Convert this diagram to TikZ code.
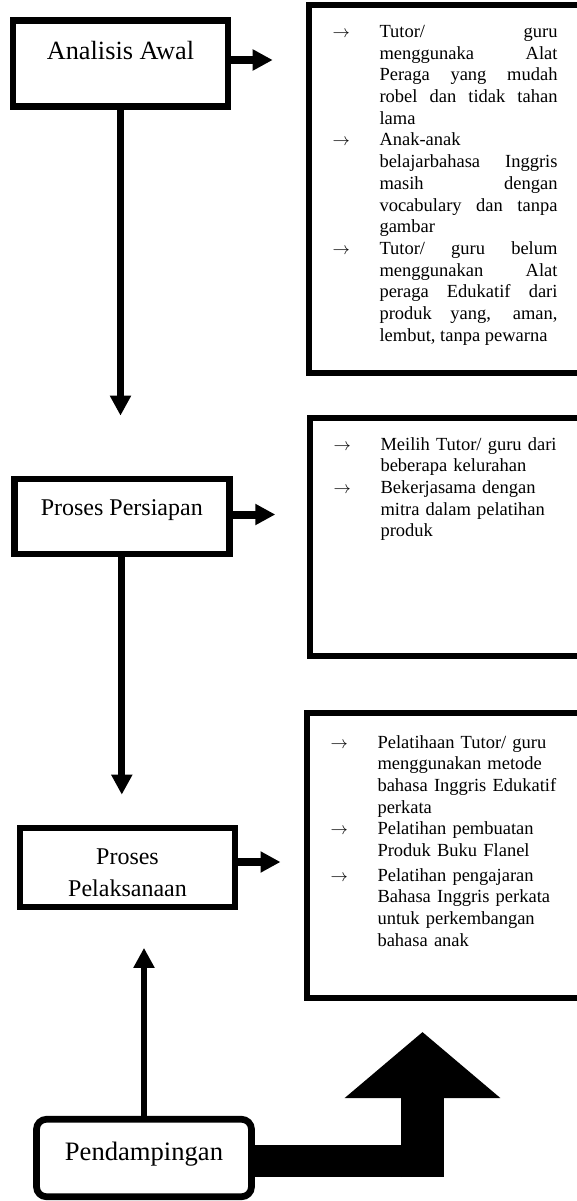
\documentclass[tikz,border=0pt]{standalone}
\usepackage{fontspec}
\setmainfont{Liberation Serif}
\usepackage{tikz}
\usetikzlibrary{arrows.meta,positioning,calc}

\newcommand{\arrowitem}{\noindent\hangindent=47pt\hangafter=1\makebox[47pt][l]{$\rightarrow$}}

\begin{document}
\begin{tikzpicture}[x=1pt,y=-1pt,
stagebox/.style={draw, line width=6.7pt, minimum width=215pt, inner sep=0pt, text height=18pt, font=\fontsize{26.3}{31}\selectfont},
notebox/.style={draw, line width=6pt, anchor=north west, inner xsep=23.5pt, inner ysep=18pt, text height=14pt, font=\fontsize{18.5}{21.7}\selectfont},
flow/.style={line width=6.7pt, -{Triangle[width=20pt,length=20pt]}}]
\useasboundingbox (0,0) rectangle (577,1201);

% stages
\node[stagebox, minimum height=86pt, text depth=26.8pt] (analisis) at (120.5,63.7) {Analisis Awal};
\node[stagebox, minimum height=75pt, text depth=21pt, font=\fontsize{24}{31}\selectfont] (persiapan) at (121.8,516.5) {Proses Persiapan};
\node[stagebox, minimum height=79pt, align=center, text height=57pt, text depth=0pt, font=\fontsize{24}{32}\selectfont] (pelaksanaan) at (127.5,867.5) {Proses\\Pelaksanaan};
\node[stagebox, rounded corners=10pt, minimum height=77.5pt, text depth=14pt, font=\fontsize{26.6}{31}\selectfont] (pendampingan) at (144,1158) {Pendampingan};

% notes
\node[notebox, align=justify, text width=225pt, text depth=317.5pt] (awalnote) at (306,2.5) {%
\arrowitem Tutor/ guru\linebreak menggunaka Alat\linebreak Peraga yang mudah\linebreak robel dan tidak tahan\linebreak lama\par
\arrowitem Anak-anak\newline belajarbahasa Inggris\linebreak masih dengan\linebreak vocabulary dan tanpa\linebreak gambar\par
\arrowitem Tutor/ guru belum\linebreak menggunakan Alat\linebreak peraga Edukatif dari\linebreak produk yang, aman,\linebreak lembut, tanpa pewarna\par};
\node[notebox, align=left, text width=228pt, text depth=188pt] (persiapannote) at (307,415) {%
\arrowitem Meilih Tutor/ guru dari\newline beberapa kelurahan\par
\arrowitem Bekerjasama dengan\newline mitra dalam pelatihan\newline produk\par};
\node[notebox, align=left, text width=228pt, text height=17pt, text depth=232pt] (pelaksanaannote) at (304,710) {%
\arrowitem Pelatihaan Tutor/ guru\newline menggunakan metode\newline bahasa Inggris Edukatif\newline perkata\par
\arrowitem Pelatihan pembuatan\newline Produk Buku Flanel\par\vspace{3pt}
\arrowitem Pelatihan pengajaran\newline Bahasa Inggris perkata\newline untuk perkembangan\newline bahasa anak\par};

% connectors
\coordinate (awaltip) at (272.7,60);
\coordinate (persiapantip) at (275.3,514.5);
\coordinate (pelaksanaantip) at (280.5,862);
\coordinate (bigbend) at (422.5,1161);
\coordinate (bigtip) at (422.5,1032);
\draw[flow, line width=8pt] (analisis.east |- awaltip) -- (awaltip);
\draw[flow, line width=8pt] (persiapan.east |- persiapantip) -- (persiapantip);
\draw[flow, line width=8pt] (pelaksanaan.east |- pelaksanaantip) -- (pelaksanaantip);
\draw[flow, shorten >=60pt] (analisis.south) -- (analisis.south |- persiapan.north);
\draw[flow, shorten >=30pt] (persiapan.south) -- (persiapan.south |- pelaksanaan.north);
\draw[flow, shorten >=37.5pt] (pendampingan.north) -- (pendampingan.north |- pelaksanaan.south);
\draw[line width=32pt] (pendampingan.east |- bigbend) -- ([xshift=21.25pt]bigbend);
\draw[line width=42.5pt, -{Triangle[width=152pt,length=66pt]}] ([yshift=-16pt]bigbend) -- (bigtip);
\end{tikzpicture}
\end{document}
